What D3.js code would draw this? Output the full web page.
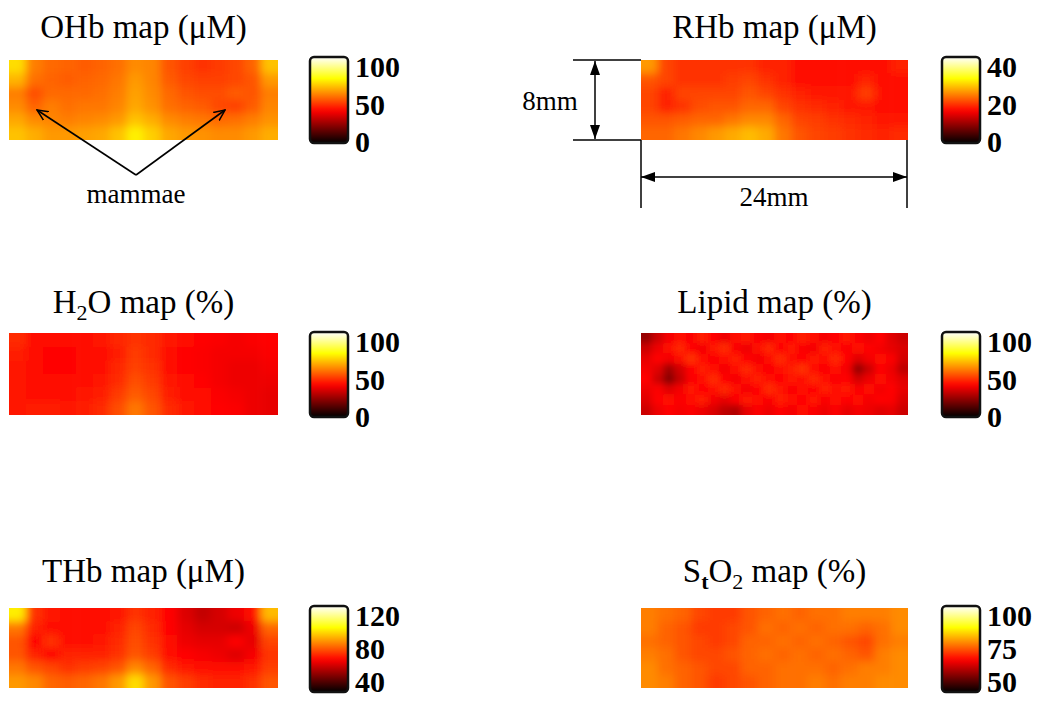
<!DOCTYPE html>
<html><head><meta charset="utf-8">
<script src="https://cdn.jsdelivr.net/npm/d3@7"></script>
<style>
body{margin:0;background:#fff;}
svg{display:block;}
text{font-family:"Liberation Serif","DejaVu Serif",serif;}
</style></head>
<body>
<svg id="chart" width="1047" height="701"></svg>
<script>
// ---------------- DATA ----------------
const titles = ["OHb map (μM)", "RHb map (μM)", "H2O map (%)", "Lipid map (%)", "THb map (μM)", "StO2 map (%)"];
const colorDomains = [[0,100],[0,40],[0,100],[0,100],[40,120],[50,100]];
const tickLabels = [["0","50","100"],["0","20","40"],["0","50","100"],["0","50","100"],["40","80","120"],["50","75","100"]];

const ohb = [
 [70,56,53,52,51,52,54,58,57,50,47,45,46,48,52,66],
 [64,54,52,51,52,53,55,60,57,51,48,47,47,48,50,60],
 [56,49,53,53,53,54,56,61,58,53,50,49,49,51,50,56],
 [58,52,56,54,55,55,57,62,59,54,52,51,48,47,51,57],
 [62,58,57,56,57,58,60,66,63,58,56,55,53,54,56,59],
 [66,63,60,60,61,62,66,73,68,62,60,59,58,58,60,63]
];
const rhb = [
 [24,19,18,18,18,18,18,17,17,16,15.5,15.5,15.5,15.5,15.5,17],
 [20,19,18,18,18,18.5,19,18,17,16,16,16,16,17,15.5,16],
 [19,17,19,19,19,19,20,19,18,17,16.5,16.5,16.5,18.5,16,16],
 [19,17,18,19.5,20,20,21,21,19,18,17.5,17,16.5,16.5,16,16],
 [20,20,20.5,21,21,22,23,23,21,19,18.5,18,17.5,17,16.5,16.5],
 [21,21,22,23,24,25,26,25,22,20,19,18.5,18,17.5,17,17.5]
];
const h2o = [
 [44,40,39,39,40,41,43,45,44,41,39,38,37,36,37,38],
 [42,39,38,38,39,40,42,46,44,40,38,37,36,36,36,37],
 [41,39,38,38,39,40,43,47,45,40,38,37,36,35,35,36],
 [41,40,39,39,40,41,44,49,46,41,39,38,36,35,35,35],
 [41,40,40,40,41,42,46,51,48,42,40,39,37,36,35,34],
 [41,42,42,41,42,44,49,55,50,44,41,39,38,37,35,34]
];
const lipid = [
 [22,30,36,40,37,42,38,35,39,41,37,36,40,38,42,39,36,38,41,37,35,38,33,30],
 [30,35,39,43,38,36,41,44,37,35,40,43,38,41,37,36,42,39,37,40,38,36,34,32],
 [34,38,36,40,45,39,37,40,42,38,36,39,44,40,38,41,39,43,38,33,36,39,37,31],
 [36,33,24,31,38,42,39,36,40,43,39,37,40,42,45,39,37,40,36,22,30,38,35,28],
 [38,30,20,29,37,40,44,38,36,39,42,40,38,41,39,43,40,37,38,31,35,40,36,33],
 [35,37,33,36,41,38,40,43,39,36,38,44,41,37,40,38,42,39,41,37,39,36,38,34],
 [33,38,40,37,39,42,36,34,37,41,39,37,42,40,38,41,37,40,38,39,36,38,37,32],
 [30,35,38,36,37,35,32,28,26,34,37,35,38,36,39,37,35,37,34,36,35,33,34,30]
];
const thb = [
 [98,76,73,72,72,72,73,76,74,70,66,63,65,68,72,92],
 [84,74,72,71,72,72,74,78,75,70,67,65,65,64,68,82],
 [80,70,76,72,72,73,75,79,76,71,68,67,67,70,67,78],
 [80,74,70,74,74,74,76,80,77,72,70,69,68,66,69,76],
 [84,80,78,76,77,78,80,86,82,75,73,72,71,71,73,77],
 [88,86,82,81,82,84,88,96,88,80,77,75,74,74,76,80]
];
const sto2 = [
 [78,77,76,74,73,73,75,76,77,76,77,77,78,78,78,79],
 [78,76,75,73,73,74,75,77,76,77,76,77,77,76,77,79],
 [77,76,75,74,73,74,76,76,77,76,77,76,75,74,77,78],
 [78,77,75,74,74,75,76,77,76,77,76,77,76,75,78,79],
 [79,77,76,75,74,74,76,76,77,77,77,76,77,78,78,79],
 [79,78,76,75,73,74,75,76,77,77,78,77,78,78,79,79]
];
const grids = [ohb, rhb, h2o, lipid, thb, sto2];
const annotations = {mammae: "mammae", height: "8mm", width: "24mm"};

// ---------------- LAYOUT ----------------
const FONT = "'Liberation Serif', 'DejaVu Serif', serif";
const svg = d3.select("#chart");
const defs = svg.append("defs");
const colX = [[9,278],[641,908]];
const cbX = [[310,348],[942,980]];
const rowY = [[60,140],[333,415],[608,688]];
const cbY = [[57,143],[332,417],[606,692]];
const titleBase = [38,313,582];

// hot colormap
const hot = d3.scaleLinear().domain([0,0.375,0.75,1]).range(["#000000","#ff0000","#ffff00","#ffffff"]).interpolate(d3.interpolateRgb).clamp(true);

// colorbar gradient
const grad = defs.append("linearGradient").attr("id","hotgrad").attr("x1",0).attr("y1",1).attr("x2",0).attr("y2",0);
d3.range(0,1.0001,0.05).forEach(t=>grad.append("stop").attr("offset",t).attr("stop-color",hot(t)));

[["blurS",4.5],["blurL",3.2]].forEach(([id,s])=>{
  defs.append("filter").attr("id",id).attr("x","-10%").attr("y","-20%").attr("width","120%").attr("height","140%")
   .append("feGaussianBlur").attr("stdDeviation",s);
});

grids.forEach((grid,i)=>{
  const c = i%2, r = Math.floor(i/2);
  const [x0,x1] = colX[c], [y0,y1] = rowY[r];
  const nR = grid.length, nC = grid[0].length;
  const xs = d3.scaleBand().domain(d3.range(nC)).range([x0,x1]);
  const ys = d3.scaleBand().domain(d3.range(nR)).range([y0,y1]);
  const dom = colorDomains[i];
  const norm = d3.scaleLinear().domain(dom).range([0,1]);
  const color = v=>hot(norm(v));
  const pad = 14;

  defs.append("clipPath").attr("id","clip"+i).append("rect")
    .attr("x",x0).attr("y",y0).attr("width",x1-x0).attr("height",y1-y0);
  const g = svg.append("g").attr("clip-path",`url(#clip${i})`)
    .append("g").attr("filter", i===3 ? "url(#blurL)" : "url(#blurS)");
  const cells = [];
  grid.forEach((row,ri)=>row.forEach((v,ci)=>cells.push({ri,ci,v})));
  g.selectAll("rect").data(cells).join("rect")
    .attr("x",d=>xs(d.ci) - (d.ci===0?pad:0))
    .attr("y",d=>ys(d.ri) - (d.ri===0?pad:0))
    .attr("width",d=>xs.bandwidth()+0.6 + (d.ci===0?pad:0) + (d.ci===nC-1?pad:0))
    .attr("height",d=>ys.bandwidth()+0.6 + (d.ri===0?pad:0) + (d.ri===nR-1?pad:0))
    .attr("fill",d=>color(d.v));

  // title
  const tx = (x0+x1)/2, ty = titleBase[r];
  const t = svg.append("text").attr("x",tx).attr("y",ty).attr("text-anchor","middle")
    .attr("font-family",FONT).attr("font-size",33).attr("fill","#000");
  if (i===2) {
    t.append("tspan").text("H");
    t.append("tspan").text("2").attr("font-size",22).attr("dy",7);
    t.append("tspan").text("O map (%)").attr("dy",-7);
  } else if (i===5) {
    t.append("tspan").text("S");
    t.append("tspan").text("t").attr("font-size",22).attr("font-weight","bold").attr("dy",7);
    t.append("tspan").text("O").attr("dy",-7);
    t.append("tspan").text("2").attr("font-size",22).attr("dy",7);
    t.append("tspan").text(" map (%)").attr("dy",-7);
  } else {
    t.text(titles[i]);
  }

  // colorbar
  const [cx0,cx1] = cbX[c], [cy0,cy1] = cbY[r];
  svg.append("rect").attr("x",cx0).attr("y",cy0).attr("width",cx1-cx0).attr("height",cy1-cy0)
    .attr("rx",4).attr("fill","url(#hotgrad)").attr("stroke","#111").attr("stroke-width",2.5);
  const bottomBase = Math.min(cy0+95, 692);
  const ls = d3.scaleLinear().domain([dom[0],dom[1]]).range([bottomBase,cy0+20]);
  const ticks = tickLabels[i];
  svg.selectAll(null).data(ticks).join("text")
    .attr("x",cx1+7).attr("y",d=>ls(+d)).attr("font-family",FONT)
    .attr("font-size",30).attr("font-weight","bold").attr("fill","#000").text(d=>d);
});

// ---------------- ANNOTATIONS ----------------
defs.append("marker").attr("id","openArrow").attr("viewBox","0 0 12 12").attr("refX",11).attr("refY",6)
  .attr("markerWidth",12).attr("markerHeight",12).attr("markerUnits","userSpaceOnUse").attr("orient","auto")
  .append("path").attr("d","M0,1 L11,6 L0,11").attr("fill","none").attr("stroke","#000").attr("stroke-width",1.5);
defs.append("marker").attr("id","fillArrow").attr("viewBox","0 0 14 10").attr("refX",14).attr("refY",5)
  .attr("markerWidth",14).attr("markerHeight",10).attr("markerUnits","userSpaceOnUse").attr("orient","auto-start-reverse")
  .append("path").attr("d","M0,0 L14,5 L0,10 Z").attr("fill","#000");

// mammae arrows
const apex = [136,175];
[[37,110],[225,110]].forEach(p=>{
  svg.append("line").attr("x1",apex[0]).attr("y1",apex[1]).attr("x2",p[0]).attr("y2",p[1])
    .attr("stroke","#000").attr("stroke-width",1.6).attr("marker-end","url(#openArrow)");
});
svg.append("text").attr("x",136).attr("y",203).attr("text-anchor","middle").attr("font-family",FONT).attr("font-size",27).text(annotations.mammae);

// dimension lines on RHb
const ln = (x1,y1,x2,y2,extra)=>{const l=svg.append("line").attr("x1",x1).attr("y1",y1).attr("x2",x2).attr("y2",y2).attr("stroke","#000").attr("stroke-width",1.5);
  if(extra){l.attr("marker-start","url(#fillArrow)").attr("marker-end","url(#fillArrow)");} return l;};
ln(573,60,641,60); ln(573,140,641,140);
ln(595,61,595,139,true);
svg.append("text").attr("x",550).attr("y",110).attr("text-anchor","middle").attr("font-family",FONT).attr("font-size",27).text(annotations.height);
ln(641,140,641,208); ln(907,140,907,208);
ln(641,177,907,177,true);
svg.append("text").attr("x",774).attr("y",206).attr("text-anchor","middle").attr("font-family",FONT).attr("font-size",27).text(annotations.width);
</script>
</body></html>
